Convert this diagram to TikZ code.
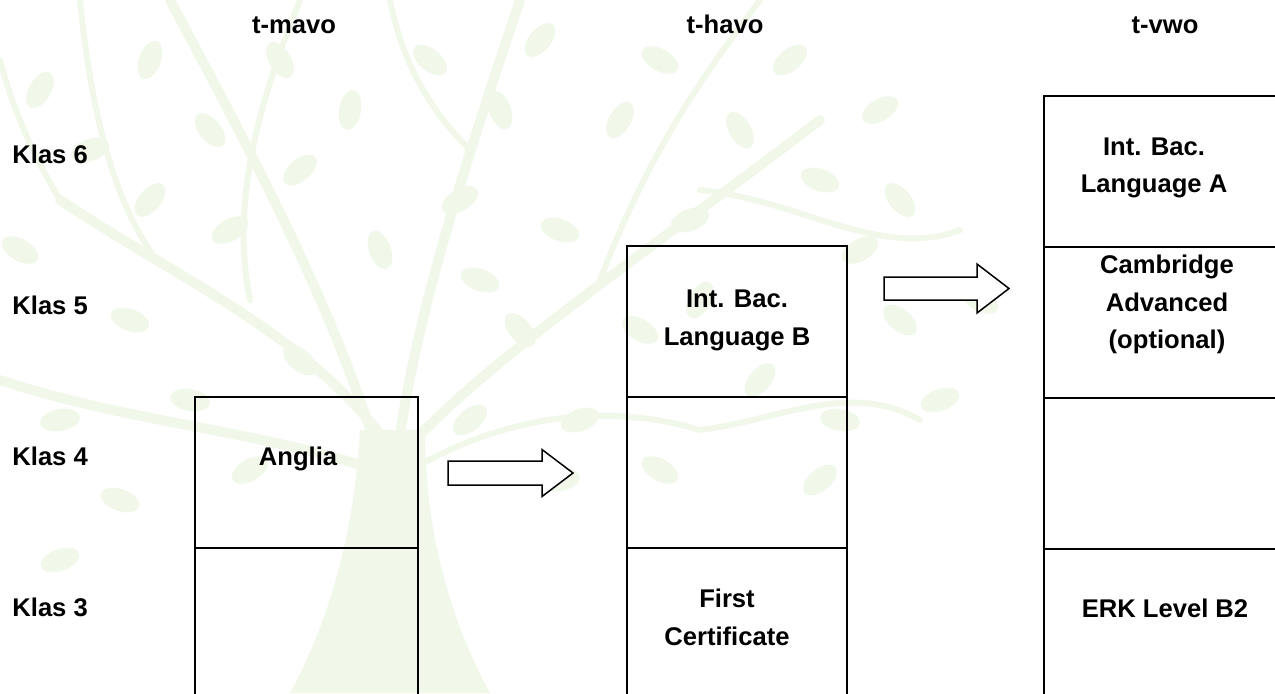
\documentclass[tikz,border=0pt]{standalone}
\usepackage{fontspec}
\setmainfont{Liberation Sans}
\usetikzlibrary{positioning}
\definecolor{leafgreen}{RGB}{241,247,233}

\begin{document}
\begin{tikzpicture}[x=0.5pt, y=-0.5pt, font=\fontsize{12.8}{18.75}\selectfont\bfseries]
    \tikzstyle{cell} = [draw, line width=1pt, minimum height=75.5pt, inner sep=0pt, outer sep=0pt]
    \tikzstyle{txt} = [align=center, inner sep=0pt]
    \tikzstyle{blockarrow} = [draw, line width=0.75pt, fill=white, line join=miter]
    \tikzstyle{branch} = [draw=leafgreen, line cap=round]
    \useasboundingbox (0,0) rectangle (1275,693);
    \clip (0,0) rectangle (1275,693);

    % tree in the background
    \fill[leafgreen] (290,693) .. controls (335,610) and (355,520) .. (360,430)
        -- (425,430) .. controls (425,520) and (445,610) .. (490,693) -- cycle;
    \path[branch, line width=5pt]
        (385,440) .. controls (300,330) and (180,280) .. (60,200)
        (375,445) .. controls (330,300) and (250,150) .. (170,0)
        (400,435) .. controls (420,300) and (470,150) .. (520,0)
        (410,445) .. controls (500,350) and (650,250) .. (820,120)
        (360,465) .. controls (250,430) and (120,420) .. (0,380);
    \path[branch, line width=3pt]
        (420,465) .. controls (500,420) and (600,400) .. (700,430)
        (60,200) .. controls (30,150) and (10,100) .. (0,60)
        (600,280) .. controls (650,150) and (700,80) .. (760,0)
        (250,300) .. controls (230,200) and (260,100) .. (300,0)
        (700,430) .. controls (780,420) and (850,380) .. (920,420)
        (160,265) .. controls (110,200) and (90,100) .. (80,0)
        (700,190) .. controls (800,200) and (880,260) .. (960,230)
        (470,150) .. controls (420,100) and (400,50) .. (390,0);
    \foreach \x/\y/\a in {40/90/60, 20/250/-30, 90/150/20, 130/320/-20, 60/420/10,
        150/60/70, 210/130/-50, 230/230/30, 280/60/-60, 300/170/40, 190/400/-10,
        350/110/80, 430/60/-40, 460/200/30, 500/110/-70, 540/40/50, 560/230/-20,
        620/120/60, 660/60/-30, 690/220/20, 740/130/-60, 790/60/40, 820/180/-20,
        860/250/30, 900/320/-40, 940/400/20, 840/420/-10, 760/380/50, 640/330/-30,
        580/420/20, 520/330/-50, 470/420/40, 300/360/-40, 250/470/30, 120/500/-20,
        560/480/10, 660/470/-30, 820/480/40, 900/200/-50, 60/560/20, 700/300/60,
        380/250/-70, 150/200/50, 480/280/-20, 880/110/30, 980/300/-30}
        \fill[leafgreen, rotate around={\a:(\x,\y)}] (\x,\y) ellipse (10pt and 5.5pt);

    % t-mavo
    \path
        node[cell, minimum width=111.5pt] (mavo4) at (306.5,472.5) {}
        node[cell, minimum width=111.5pt, below=0pt of mavo4] (mavo3) {};
    % t-havo
    \path
        node[cell, minimum width=110pt] (havo5) at (737,321.5) {}
        node[cell, minimum width=110pt, below=0pt of havo5] (havo4) {}
        node[cell, minimum width=110pt, below=0pt of havo4] (havo3) {};
    % t-vwo
    \path
        node[cell, minimum width=135pt] (vwo6) at (1179,171) {}
        node[cell, minimum width=135pt, below=0pt of vwo6] (vwo5) {}
        node[cell, minimum width=135pt, below=0pt of vwo5] (vwo4) {}
        node[cell, minimum width=135pt, below=0pt of vwo4] (vwo3) {};

    \path
        node[txt, anchor=base] (hmavo) at (294,33) {t-mavo}
        node[txt, anchor=base] (hhavo) at (725,33) {t-havo}
        node[txt, anchor=base] (hvwo) at (1165,33) {t-vwo}
        node[txt, anchor=base west] (k6) at (12,163) {Klas 6}
        node[txt, anchor=base west] (k5) at (12,314) {Klas 5}
        node[txt, anchor=base west] (k4) at (12,465) {Klas 4}
        node[txt, anchor=base west] (k3) at (12,616) {Klas 3}
        node[txt, anchor=base] (anglia) at (298,465) {Anglia}
        node[txt] (ibb) at (737,320.5) {Int. Bac.\\Language B}
        node[txt] (fce) at (727,617.5) {First\\Certificate}
        node[txt] (iba) at (1154,168) {Int. Bac.\\Language A}
        node[txt] (cae) at (1167,304.5) {Cambridge\\Advanced\\(optional)}
        node[txt, anchor=base] (erk) at (1165,617) {ERK Level B2};

    \coordinate (arrA) at (448,473.5);
    \coordinate (arrB) at (884,288.5);
    \draw[blockarrow] (arrA) ++(0,-12.5) -- ++(94,0) -- ++(0,-11.5) -- ++(31,23.5)
        -- ++(-31,23.5) -- ++(0,-11.5) -- ++(-94,0) -- cycle;
    \draw[blockarrow] (arrB) ++(0,-11.5) -- ++(93,0) -- ++(0,-13) -- ++(32,24.5)
        -- ++(-32,24.5) -- ++(0,-13) -- ++(-93,0) -- cycle;
\end{tikzpicture}
\end{document}
